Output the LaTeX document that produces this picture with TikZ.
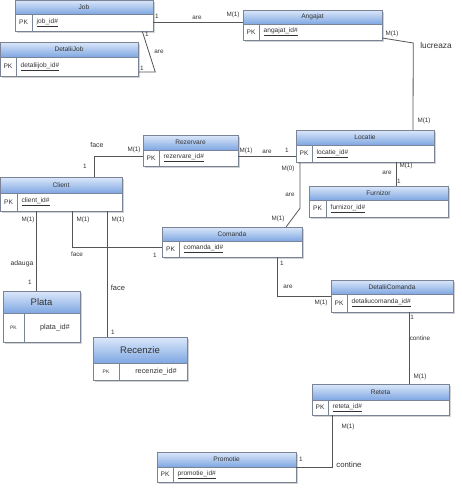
\documentclass[tikz,border=0pt]{standalone}
\usepackage{fontspec}
\setmainfont{Liberation Sans}
\usetikzlibrary{shadows,calc}
\definecolor{hdtop}{HTML}{DCE8FA}
\definecolor{hdbot}{HTML}{7FA7E2}
\definecolor{bordc}{HTML}{7A8496}
\definecolor{linec}{HTML}{555555}
\definecolor{txtc}{HTML}{333333}
\tikzset{
  entbox/.style={draw=bordc, fill=white, inner sep=0pt, line width=0.5pt,
    drop shadow={shadow xshift=1.5pt, shadow yshift=-1.5pt, opacity=0.35}},
  conn/.style={draw=linec, line width=0.8pt},
  lbl/.style={text=txtc, font=\fontsize{6.3}{7}\selectfont, inner sep=0pt},
  biglbl/.style={text=txtc, font=\fontsize{8.3}{9}\selectfont, inner sep=0pt},
  ttl/.style={text=txtc, font=\fontsize{6.6}{7}\selectfont, inner sep=0pt},
  bigttl/.style={text=txtc, font=\fontsize{9.5}{10}\selectfont, inner sep=0pt},
  fld/.style={text=txtc, font=\fontsize{6.6}{7}\selectfont, inner sep=0pt},
  bigfld/.style={text=txtc, font=\fontsize{7.3}{8}\selectfont, inner sep=0pt},
  smallfld/.style={text=txtc, font=\fontsize{5}{5}\selectfont, inner sep=0pt},
}
% name, x1, y1, x2, y2, header bottom, divider x, title, field
\newcommand\ent[9]{%
  \pgfmathsetmacro\entw{#4-#2}\pgfmathsetmacro\enth{#5-#3}%
  \node[entbox, minimum width=\entw pt, minimum height=\enth pt] (#1) at ({(#2+#4)/2},{(#3+#5)/2}) {};
  \shade[top color=hdtop, bottom color=hdbot] (#2,#3) rectangle (#4,#6);
  \draw[bordc, line width=0.5pt] (#2,#3) rectangle (#4,#5);
  \draw[bordc, line width=0.5pt] (#2,#6) -- (#4,#6) (#7,#6) -- (#7,#5);
  \node[ttl] at ({(#2+#4)/2},{(#3+#6)/2}) {#8};
  \node[fld] at ({(#2+#7)/2},{(#6+#5)/2}) {PK};
  \node[fld, anchor=west] at ({#7+4.5},{(#6+#5)/2}) {\underline{#9}};
}
\newcommand\entbig[9]{%
  \pgfmathsetmacro\entw{#4-#2}\pgfmathsetmacro\enth{#5-#3}%
  \node[entbox, minimum width=\entw pt, minimum height=\enth pt] (#1) at ({(#2+#4)/2},{(#3+#5)/2}) {};
  \shade[top color=hdtop, bottom color=hdbot] (#2,#3) rectangle (#4,#6);
  \draw[bordc, line width=0.5pt] (#2,#3) rectangle (#4,#5);
  \draw[bordc, line width=0.5pt] (#2,#6) -- (#4,#6) (#7,#6) -- (#7,#5);
  \node[bigttl] at ({(#2+#4)/2},{(#3+#6)/2}) {#8};
  \node[smallfld] at ({(#2+#7)/2},{(#6+#5)/2}) {PK};
  \node[bigfld] at ({(#7+#4)/2+3},{(#6+#5)/2}) {#9};
}
\begin{document}
\begin{tikzpicture}[x=1pt, y=-1pt]
\useasboundingbox[fill=white] (0,0) rectangle (462,491);

\ent{job}{15}{0}{153}{31}{14}{32}{Job}{job\_id\#}
\ent{detaliijob}{0}{42}{138}{76}{57}{16}{DetaliiJob}{detaliijob\_id\#}
\ent{angajat}{243}{10}{382}{40}{24}{259}{Angajat}{angajat\_id\#}
\ent{rezervare}{143}{135}{238}{166}{150}{159}{Rezervare}{rezervare\_id\#}
\ent{locatie}{296}{130}{434}{162}{145}{312}{Locatie}{locatie\_id\#}
\ent{furnizor}{309}{186}{448}{217}{200}{326}{Furnizor}{furnizor\_id\#}
\ent{client}{0}{177}{122}{211}{193}{17}{Client}{client\_id\#}
\ent{comanda}{162}{227}{302}{257}{241}{179}{Comanda}{comanda\_id\#}
\ent{detaliicomanda}{331}{280}{453}{312}{294}{347}{DetaliiComanda}{detaliucomanda\_id\#}
\entbig{plata}{3}{291}{80}{342}{313}{24}{Plata}{plata\_id\#}
\entbig{recenzie}{93}{337}{187}{380}{363}{119}{Recenzie}{recenzie\_id\#}
\ent{reteta}{312}{384}{449}{415}{400}{328}{Reteta}{reteta\_id\#}
\ent{promotie}{157}{452}{296}{482}{467}{173}{Promotie}{promotie\_id\#}

% connectors
\draw[conn] ([yshift=-6.5pt]job.east) -- ([yshift=-6.5pt]job.east -| angajat.west);
\draw[conn] ([xshift=-11pt]job.south east) -- ([xshift=17pt,yshift=-13pt]detaliijob.east) -- ([yshift=-13pt]detaliijob.east);
\draw[conn] ([yshift=-13pt]angajat.east) -- ++(31,5) -- ([xshift=48pt]locatie.north);
\draw[conn] ([yshift=-5.5pt]rezervare.east) -- ([yshift=-5.5pt]rezervare.east -| locatie.west);
\draw[conn] ([yshift=-5.5pt]rezervare.west) -| ([xshift=33pt]client.north);
\draw[conn] ([xshift=31pt]locatie.south) -- ([xshift=31pt]locatie.south |- furnizor.north);
\draw[conn] ([xshift=-65pt]locatie.south) -- ++(0,46) -- ([xshift=-16pt]comanda.north east);
\draw[conn] ([xshift=-25pt]client.south) -- ([xshift=-25pt]client.south |- plata.north);
\draw[conn] ([xshift=11pt]client.south) |- ([yshift=-5pt]comanda.west);
\draw[conn] ([xshift=46pt]client.south) -- ([xshift=46pt]client.south |- recenzie.north);
\draw[conn] ([xshift=45pt]comanda.south) |- (detaliicomanda.west);
\draw[conn] ([xshift=17pt]detaliicomanda.south) -- ([xshift=17pt]detaliicomanda.south |- reteta.north);
\draw[conn] ([xshift=-48.5pt]reteta.south) |- (promotie.east);

% labels
\node[lbl] (l1) at (157,16) {1};
\node[lbl] (l2) at (197,18) {are};
\node[lbl] (l3) at (233,15) {M(1)};
\node[lbl] (l4) at (147,34) {1};
\node[lbl] (l5) at (159,52) {are};
\node[lbl] (l6) at (142,68) {1};
\node[lbl] (l7) at (392,34) {M(1)};
\node[biglbl] (l8) at (436,46) {lucreaza};
\node[lbl] (l9) at (424,121) {M(1)};
\node[lbl, font=\fontsize{7}{8}\selectfont] (l10) at (97,145) {face};
\node[lbl] (l11) at (134,150) {M(1)};
\node[lbl] (l12) at (85,166) {1};
\node[lbl] (l13) at (246,151) {M(1)};
\node[lbl] (l14) at (267,152) {are};
\node[lbl] (l15) at (287,150) {1};
\node[lbl] (l16) at (288,169) {M(0)};
\node[lbl] (l17) at (290,195) {are};
\node[lbl] (l18) at (278,219) {M(1)};
\node[lbl] (l19) at (406,166) {M(1)};
\node[lbl] (l20) at (387,173) {are};
\node[lbl] (l21) at (399,181) {1};
\node[lbl] (l22) at (28,220) {M(1)};
\node[lbl] (l23) at (83,220) {M(1)};
\node[lbl] (l24) at (118,220) {M(1)};
\node[lbl, font=\fontsize{6.8}{7}\selectfont] (l25) at (22,264) {adauga};
\node[lbl] (l26) at (30,282) {1};
\node[lbl] (l27) at (77,254) {face};
\node[lbl] (l28) at (155,255) {1};
\node[lbl, font=\fontsize{7.5}{8}\selectfont] (l29) at (118,288) {face};
\node[lbl] (l30) at (113,332) {1};
\node[lbl] (l31) at (282,263) {1};
\node[lbl] (l32) at (288,287) {are};
\node[lbl] (l33) at (321,303) {M(1)};
\node[lbl] (l34) at (412,317) {1};
\node[lbl] (l35) at (420,338) {contine};
\node[lbl] (l36) at (420,377) {M(1)};
\node[lbl] (l37) at (348,427) {M(1)};
\node[lbl] (l38) at (301,459) {1};
\node[biglbl, font=\fontsize{7.8}{8}\selectfont] (l39) at (349,465) {contine};
\end{tikzpicture}
\end{document}
